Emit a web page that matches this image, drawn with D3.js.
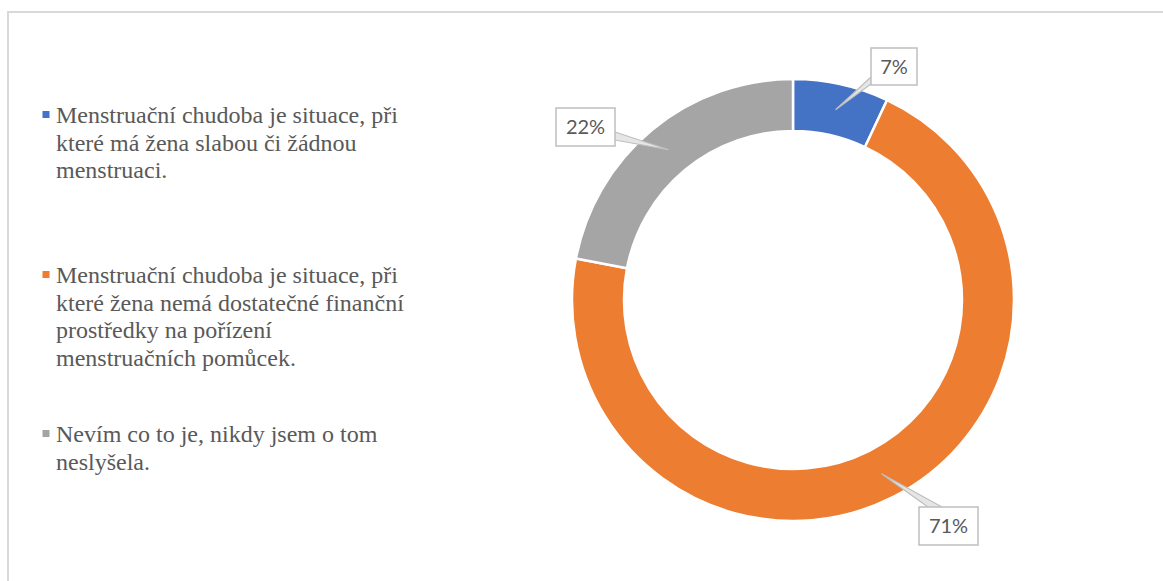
<!DOCTYPE html>
<html>
<head>
<meta charset="utf-8">
<script src="https://cdn.jsdelivr.net/npm/d3@7"></script>
<style>
  html, body { margin: 0; padding: 0; background: #fff; }
  svg { display: block; }
</style>
</head>
<body>
<svg id="chart" width="1163" height="581"></svg>
<script>
// Survey answers: what is "menstrual poverty"?
const categories = [
  ["Menstruační chudoba je situace, při", "které má žena slabou či žádnou", "menstruaci."],
  ["Menstruační chudoba je situace, při", "které žena nemá dostatečné finanční", "prostředky na pořízení", "menstruačních pomůcek."],
  ["Nevím co to je, nikdy jsem o tom", "neslyšela."]
];
const shares = [7, 71, 22];
const labels = ["7%", "71%", "22%"];
const colors = ["#4472C4", "#ED7D31", "#A5A5A5"];

const svg = d3.select("#chart");

// outer frame
svg.append("rect")
  .attr("x", 8).attr("y", 12)
  .attr("width", 1170).attr("height", 600)
  .attr("fill", "none")
  .attr("stroke", "#d9d9d9")
  .attr("stroke-width", 2);

// legend
const legend = svg.append("g").attr("class", "legend");
const legendTops = [123, 283, 442];
const lineH = 27.5;
categories.forEach((lines, i) => {
  const g = legend.append("g");
  g.append("rect")
    .attr("x", 42.5).attr("y", legendTops[i] - 12)
    .attr("width", 7).attr("height", 7)
    .attr("fill", colors[i]);
  const t = g.append("text")
    .style("font-family", '"Liberation Serif", Tinos, "Times New Roman", serif')
    .style("font-size", "24px")
    .attr("fill", "#595959");
  lines.forEach((ln, j) => {
    t.append("tspan").attr("x", 56).attr("y", legendTops[i] + j * lineH).text(ln);
  });
});

// donut
const cx = 793, cy = 300, R = 221, r = 169;
const pie = d3.pie().sort(null).value(d => d)(shares);
const arc = d3.arc().innerRadius(r).outerRadius(R);
const donut = svg.append("g").attr("transform", `translate(${cx},${cy})`);
donut.selectAll("path")
  .data(pie)
  .join("path")
  .attr("d", arc)
  .attr("fill", (d, i) => colors[i])
  .attr("stroke", "#fff")
  .attr("stroke-width", 2.5);

// data callouts: box rectangle and the two points where the pointer leaves the box
const callouts = [
  { box: [871, 48, 46, 37], base: [[871, 77], [871, 84]] },
  { box: [919, 507, 59, 38], base: [[928, 507], [942, 507]] },
  { box: [556, 108, 59, 38], base: [[615, 132], [615, 140]] }
];
const tipRadius = (r + R) / 2;
const cg = svg.append("g");
pie.forEach((d, i) => {
  const c = callouts[i];
  const mid = (d.startAngle + d.endAngle) / 2;
  // pointer tip sits in the middle of the ring, on the slice's mid angle
  const tip = [cx + Math.sin(mid) * tipRadius, cy - Math.cos(mid) * tipRadius];
  cg.append("path")
    .attr("d", d3.line()([c.base[0], tip, c.base[1]]))
    .attr("fill", "#e6e6e6")
    .attr("stroke", "#bfbfbf")
    .attr("stroke-width", 1.2);
  cg.append("rect")
    .attr("x", c.box[0]).attr("y", c.box[1])
    .attr("width", c.box[2]).attr("height", c.box[3])
    .attr("fill", "#fff")
    .attr("stroke", "#bfbfbf")
    .attr("stroke-width", 1.5);
  cg.append("text")
    .attr("x", c.box[0] + c.box[2] / 2)
    .attr("y", c.box[1] + c.box[3] / 2 + 7)
    .attr("text-anchor", "middle")
    .style("font-family", "Lato, 'Open Sans', sans-serif")
    .style("font-size", "20px")
    .attr("fill", "#595959")
    .text(labels[i]);
});
</script>
</body>
</html>
